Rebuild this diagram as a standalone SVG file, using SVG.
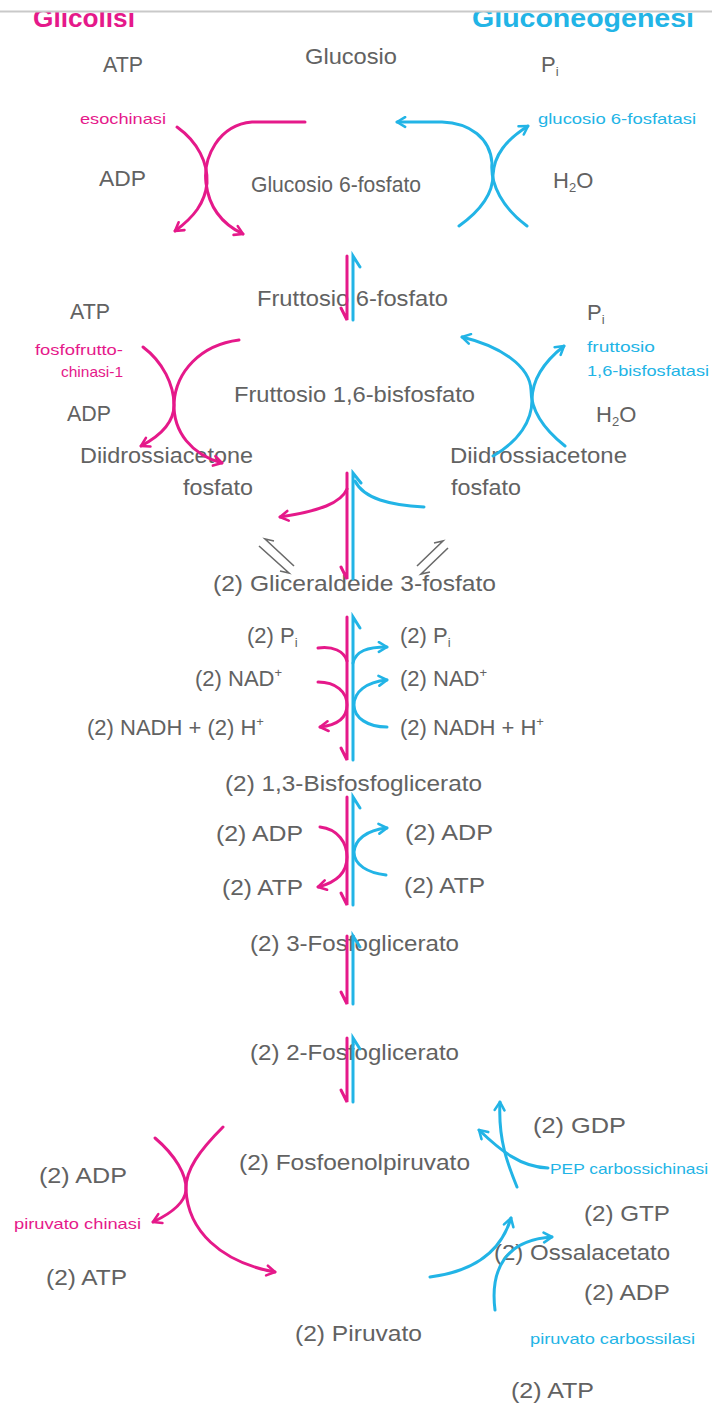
<svg xmlns="http://www.w3.org/2000/svg" width="712" height="1406" viewBox="0 0 712 1406">
<style>
.t{font-family:"Liberation Sans",Arial,sans-serif;font-size:22px;fill:#626262}
.sm{font-family:"Liberation Sans",Arial,sans-serif;font-size:15px}
.mg{fill:#e5198a}
.cy{fill:#22b4e6}
.hd{font-family:"Liberation Sans",Arial,sans-serif;font-size:26px;font-weight:bold}
.pm{fill:none;stroke:#e5198a;stroke-width:3;stroke-linecap:round}
.pc{fill:none;stroke:#22b4e6;stroke-width:3;stroke-linecap:round}
.eq{fill:none;stroke:#6a6a6a;stroke-width:1.6}
</style>
<defs>
<marker id="am" viewBox="0 0 12 12" refX="10.5" refY="6" markerWidth="13" markerHeight="13" markerUnits="userSpaceOnUse" orient="auto">
<path d="M3,1.5 L10.5,6 L3,10.5" fill="none" stroke="#e5198a" stroke-width="2.4" stroke-linecap="round" stroke-linejoin="round"/>
</marker>
<marker id="ac" viewBox="0 0 12 12" refX="10.5" refY="6" markerWidth="13" markerHeight="13" markerUnits="userSpaceOnUse" orient="auto">
<path d="M3,1.5 L10.5,6 L3,10.5" fill="none" stroke="#22b4e6" stroke-width="2.4" stroke-linecap="round" stroke-linejoin="round"/>
</marker>
</defs>
<rect width="712" height="1406" fill="#ffffff"/>

<g id="header">
<text class="hd mg" x="33" y="27" textLength="102" lengthAdjust="spacingAndGlyphs">Glicolisi</text>
<text class="hd cy" x="472" y="27" textLength="222" lengthAdjust="spacingAndGlyphs">Gluconeogenesi</text>
<rect x="0" y="0" width="712" height="11" fill="#ffffff"/>
<line x1="0" y1="11.5" x2="712" y2="11.5" stroke="#c9c9c9" stroke-width="2"/>
</g>

<g id="n-glucosio"><text class="t" x="305" y="64" textLength="92" lengthAdjust="spacingAndGlyphs">Glucosio</text></g>
<g id="n-atp1"><text class="t" x="103" y="72" textLength="40" lengthAdjust="spacingAndGlyphs">ATP</text></g>
<g id="n-pi1"><text class="t" x="541" y="72">P<tspan font-size="13" dy="4">i</tspan></text></g>
<g id="n-esochinasi"><text class="sm mg" x="80" y="124" textLength="86" lengthAdjust="spacingAndGlyphs">esochinasi</text></g>
<g id="n-g6fosfatasi"><text class="sm cy" x="538" y="124" textLength="158" lengthAdjust="spacingAndGlyphs">glucosio 6-fosfatasi</text></g>
<g id="n-adp1"><text class="t" x="99" y="186" textLength="47" lengthAdjust="spacingAndGlyphs">ADP</text></g>
<g id="n-g6p"><text class="t" x="251" y="192" textLength="170" lengthAdjust="spacingAndGlyphs">Glucosio 6-fosfato</text></g>
<g id="n-h2o1"><text class="t" x="553" y="188">H<tspan font-size="13" dy="4">2</tspan><tspan dy="-4">O</tspan></text></g>

<g id="n-f6p"><text class="t" x="257" y="306" textLength="191" lengthAdjust="spacingAndGlyphs">Fruttosio 6-fosfato</text></g>
<g id="n-atp2"><text class="t" x="70" y="319" textLength="40" lengthAdjust="spacingAndGlyphs">ATP</text></g>
<g id="n-pi2"><text class="t" x="587" y="320">P<tspan font-size="13" dy="4">i</tspan></text></g>
<g id="n-pfk"><text class="sm mg" x="123" y="355" text-anchor="end" textLength="88" lengthAdjust="spacingAndGlyphs">fosfofrutto-</text><text class="sm mg" x="123" y="377" text-anchor="end" textLength="62" lengthAdjust="spacingAndGlyphs">chinasi-1</text></g>
<g id="n-fbpasi"><text class="sm cy" x="587" y="352" textLength="68" lengthAdjust="spacingAndGlyphs">fruttosio</text><text class="sm cy" x="587" y="376" textLength="122" lengthAdjust="spacingAndGlyphs">1,6-bisfosfatasi</text></g>
<g id="n-f16bp"><text class="t" x="234" y="402" textLength="241" lengthAdjust="spacingAndGlyphs">Fruttosio 1,6-bisfosfato</text></g>
<g id="n-adp2"><text class="t" x="67" y="421" textLength="44" lengthAdjust="spacingAndGlyphs">ADP</text></g>
<g id="n-h2o2"><text class="t" x="596" y="422">H<tspan font-size="13" dy="4">2</tspan><tspan dy="-4">O</tspan></text></g>
<g id="n-dhap-l"><text class="t" x="80" y="463" textLength="173" lengthAdjust="spacingAndGlyphs">Diidrossiacetone</text><text class="t" x="253" y="495" text-anchor="end" textLength="70" lengthAdjust="spacingAndGlyphs">fosfato</text></g>
<g id="n-dhap-r"><text class="t" x="450" y="463" textLength="177" lengthAdjust="spacingAndGlyphs">Diidrossiacetone</text><text class="t" x="451" y="495" textLength="70" lengthAdjust="spacingAndGlyphs">fosfato</text></g>
<g id="n-gap"><text class="t" x="213" y="591" textLength="283" lengthAdjust="spacingAndGlyphs">(2) Gliceraldeide 3-fosfato</text></g>

<g id="n-pi3l"><text class="t" x="247" y="643">(2) P<tspan font-size="13" dy="4">i</tspan></text></g>
<g id="n-pi3r"><text class="t" x="400" y="643">(2) P<tspan font-size="13" dy="4">i</tspan></text></g>
<g id="n-nad-l"><text class="t" x="195" y="686">(2) NAD<tspan font-size="13" dy="-9">+</tspan></text></g>
<g id="n-nad-r"><text class="t" x="400" y="686">(2) NAD<tspan font-size="13" dy="-9">+</tspan></text></g>
<g id="n-nadh-l"><text class="t" x="87" y="735">(2) NADH + (2) H<tspan font-size="13" dy="-9">+</tspan></text></g>
<g id="n-nadh-r"><text class="t" x="400" y="735">(2) NADH + H<tspan font-size="13" dy="-9">+</tspan></text></g>
<g id="n-13bpg"><text class="t" x="225" y="791" textLength="257" lengthAdjust="spacingAndGlyphs">(2) 1,3-Bisfosfoglicerato</text></g>
<g id="n-adp3l"><text class="t" x="216" y="841" textLength="87" lengthAdjust="spacingAndGlyphs">(2) ADP</text></g>
<g id="n-adp3r"><text class="t" x="405" y="840" textLength="88" lengthAdjust="spacingAndGlyphs">(2) ADP</text></g>
<g id="n-atp3l"><text class="t" x="222" y="895" textLength="81" lengthAdjust="spacingAndGlyphs">(2) ATP</text></g>
<g id="n-atp3r"><text class="t" x="404" y="893" textLength="81" lengthAdjust="spacingAndGlyphs">(2) ATP</text></g>
<g id="n-3pg"><text class="t" x="250" y="951" textLength="209" lengthAdjust="spacingAndGlyphs">(2) 3-Fosfoglicerato</text></g>
<g id="n-2pg"><text class="t" x="250" y="1060" textLength="209" lengthAdjust="spacingAndGlyphs">(2) 2-Fosfoglicerato</text></g>

<g id="n-pep"><text class="t" x="239" y="1170" textLength="231" lengthAdjust="spacingAndGlyphs">(2) Fosfoenolpiruvato</text></g>
<g id="n-adp4"><text class="t" x="39" y="1183" textLength="88" lengthAdjust="spacingAndGlyphs">(2) ADP</text></g>
<g id="n-pk"><text class="sm mg" x="14" y="1229" textLength="127" lengthAdjust="spacingAndGlyphs">piruvato chinasi</text></g>
<g id="n-atp4"><text class="t" x="46" y="1285" textLength="81" lengthAdjust="spacingAndGlyphs">(2) ATP</text></g>
<g id="n-gdp"><text class="t" x="533" y="1133" textLength="93" lengthAdjust="spacingAndGlyphs">(2) GDP</text></g>
<g id="n-pepck"><text class="sm cy" x="550" y="1174" textLength="158" lengthAdjust="spacingAndGlyphs">PEP carbossichinasi</text></g>
<g id="n-gtp"><text class="t" x="584" y="1221" textLength="86" lengthAdjust="spacingAndGlyphs">(2) GTP</text></g>
<g id="n-oaa"><text class="t" x="494" y="1260" textLength="176" lengthAdjust="spacingAndGlyphs">(2) Ossalacetato</text></g>
<g id="n-adp5"><text class="t" x="584" y="1300" textLength="86" lengthAdjust="spacingAndGlyphs">(2) ADP</text></g>
<g id="n-piruvato"><text class="t" x="295" y="1341" textLength="127" lengthAdjust="spacingAndGlyphs">(2) Piruvato</text></g>
<g id="n-pc"><text class="sm cy" x="530" y="1344" textLength="165" lengthAdjust="spacingAndGlyphs">piruvato carbossilasi</text></g>
<g id="n-atp5"><text class="t" x="511" y="1398" textLength="83" lengthAdjust="spacingAndGlyphs">(2) ATP</text></g>

<g id="connectors">
<!-- step 1: esochinasi / glucosio 6-fosfatasi -->
<path class="pm" d="M305,122 L252,122 C218,125 203,158 206,183 C209,208 222,224 243,234" marker-end="url(#am)"/>
<path class="pm" d="M177,127 C198,142 208,163 207,183 C205,203 194,217 175,231" marker-end="url(#am)"/>
<path class="pc" d="M527,226 C503,208 490,185 492,163 C490,138 470,123 442,122 L397,122" marker-end="url(#ac)"/>
<path class="pc" d="M459,226 C480,211 493,195 493,175 C494,155 506,140 528,126" marker-end="url(#ac)"/>

<!-- G6P <-> F6P -->
<path class="pm" d="M347,256 L347,320 L341,308"/>
<path class="pc" d="M353,320 L353,256 L360,267"/>

<!-- step 3: PFK-1 / FBPasi -->
<path class="pm" d="M239,340 C200,345 176,372 174,403 C173,432 192,455 222,463" marker-end="url(#am)"/>
<path class="pm" d="M143,347 C163,362 174,385 174,405 C174,422 160,436 141,446" marker-end="url(#am)"/>
<path class="pc" d="M565,446 C541,427 531,407 531,390 C530,366 500,346 462,337" marker-end="url(#ac)"/>
<path class="pc" d="M493,456 C519,441 532,421 532,400 C532,380 545,361 564,346" marker-end="url(#ac)"/>

<!-- F1,6BP <-> GAP -->
<path class="pm" d="M347,473 L347,579 L341,567"/>
<path class="pc" d="M353,579 L353,473 L361,483"/>
<path class="pm" d="M347,489 C341,503 320,511 280,517" marker-end="url(#am)"/>
<path class="pc" d="M424,507 C390,505 364,499 355,481"/>

<!-- triose phosphate equilibria -->
<path class="eq" d="M294,566 L265,539 L274,541"/>
<path class="eq" d="M259,546 L289,573 L280,571"/>
<path class="eq" d="M417,566 L443,541 L434,543"/>
<path class="eq" d="M448,548 L421,574 L430,572"/>

<!-- GAP <-> 1,3-BPG -->
<path class="pm" d="M347,617 L347,760 L341,748"/>
<path class="pc" d="M353,760 L353,617 L360,628"/>
<path class="pm" d="M318,648 C333,646 344,651 347,661"/>
<path class="pm" d="M318,682 C336,682 347,692 347,705 C347,717 338,725 320,727" marker-end="url(#am)"/>
<path class="pc" d="M353,663 C356,651 367,647 387,647" marker-end="url(#ac)"/>
<path class="pc" d="M387,727 C368,727 354,718 354,705 C354,692 366,682 387,680" marker-end="url(#ac)"/>

<!-- 1,3-BPG <-> 3PG -->
<path class="pm" d="M347,797 L347,905 L341,893"/>
<path class="pc" d="M353,905 L353,797 L360,808"/>
<path class="pm" d="M320,827 C338,829 347,843 347,857 C347,871 338,882 318,887" marker-end="url(#am)"/>
<path class="pc" d="M386,875 C368,873 354,865 354,852 C355,840 366,830 387,828" marker-end="url(#ac)"/>

<!-- 3PG <-> 2PG -->
<path class="pm" d="M347,936 L347,1004 L341,992"/>
<path class="pc" d="M353,1004 L353,936 L360,947"/>

<!-- 2PG <-> PEP -->
<path class="pm" d="M347,1038 L347,1102 L341,1090"/>
<path class="pc" d="M353,1102 L353,1038 L360,1049"/>

<!-- piruvato chinasi -->
<path class="pm" d="M223,1127 C200,1150 185,1170 186,1190 C188,1230 220,1262 275,1272" marker-end="url(#am)"/>
<path class="pm" d="M155,1138 C175,1155 187,1175 186,1190 C185,1202 172,1213 153,1222" marker-end="url(#am)"/>

<!-- PEP carbossichinasi -->
<path class="pc" d="M517,1187 C508,1165 498,1140 500,1102" marker-end="url(#ac)"/>
<path class="pc" d="M548,1168 C520,1167 500,1150 479,1130" marker-end="url(#ac)"/>

<!-- piruvato carbossilasi -->
<path class="pc" d="M430,1277 C470,1272 500,1255 511,1218" marker-end="url(#ac)"/>
<path class="pc" d="M495,1310 C490,1270 505,1240 552,1237" marker-end="url(#ac)"/>
</g>
</svg>
